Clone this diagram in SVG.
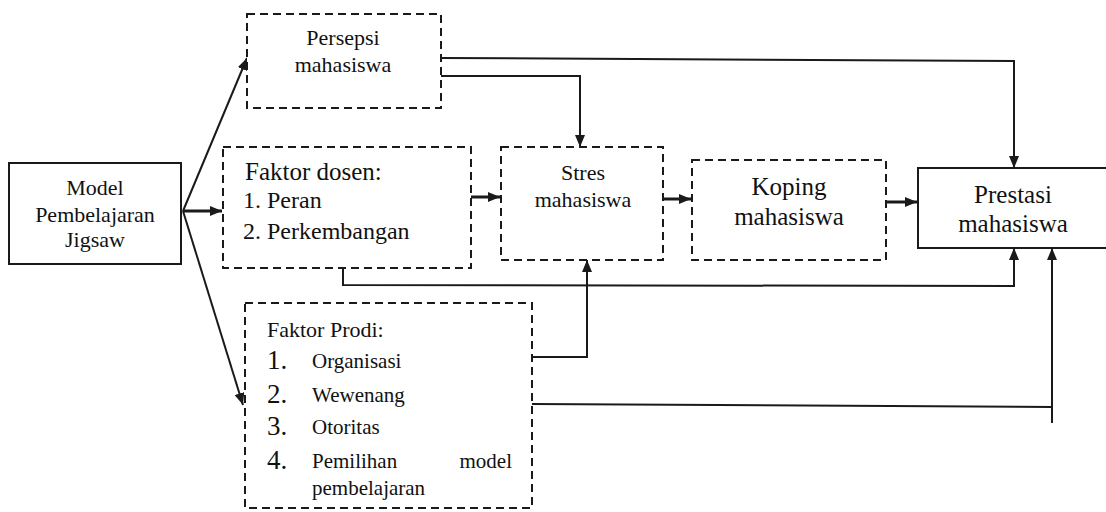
<svg xmlns="http://www.w3.org/2000/svg" width="1106" height="512" viewBox="0 0 1106 512">
<defs>
<style>
.solid{fill:#fff;stroke:#1a1a1a;stroke-width:2}
.dash{fill:#fff;stroke:#1a1a1a;stroke-width:2;stroke-dasharray:8 5}
text{font-family:'Liberation Serif','Times New Roman',serif;fill:#111}
.c{text-anchor:middle}
.ln{fill:none;stroke:#1a1a1a;stroke-width:2}
</style>
<marker id="ah" viewBox="0 0 12 10" refX="12" refY="5" markerWidth="12" markerHeight="10" markerUnits="userSpaceOnUse" orient="auto">
<path d="M0,0 L12,5 L0,10 z" fill="#1a1a1a"/>
</marker>
</defs>
<rect width="1106" height="512" fill="#fff"/>

<g id="connectors">
<path class="ln" d="M183,211 L247,58" marker-end="url(#ah)"/>
<path class="ln" style="stroke-width:3" d="M183,211 L222,211" marker-end="url(#ah)"/>
<path class="ln" d="M183,211 L243,405" marker-end="url(#ah)"/>
<path class="ln" d="M441,58 L1014,61 L1014,168" marker-end="url(#ah)"/>
<path class="ln" d="M441,76 L580,76 L580,147" marker-end="url(#ah)"/>
<path class="ln" style="stroke-width:3" d="M471,197 L500,197" marker-end="url(#ah)"/>
<path class="ln" style="stroke-width:3" d="M663,199 L691,199" marker-end="url(#ah)"/>
<path class="ln" style="stroke-width:3" d="M886,202 L917,202" marker-end="url(#ah)"/>
<path class="ln" d="M343,268 L343,285 L1014,286 L1014,248" marker-end="url(#ah)"/>
<path class="ln" d="M532,357 L587,357 L587,260" marker-end="url(#ah)"/>
<path class="ln" d="M532,404 L1052,407"/>
<path class="ln" d="M1052,423 L1052,248" marker-end="url(#ah)"/>
</g>

<g id="model">
<rect class="solid" x="9" y="163" width="172" height="101"/>
<text class="c" x="95" y="195" font-size="22">Model</text>
<text class="c" x="95" y="222" font-size="22">Pembelajaran</text>
<text class="c" x="95" y="247" font-size="22">Jigsaw</text>
</g>

<g id="persepsi">
<rect class="dash" x="247" y="14" width="194" height="94"/>
<text class="c" x="343" y="45" font-size="22">Persepsi</text>
<text class="c" x="343" y="72" font-size="22">mahasiswa</text>
</g>

<g id="dosen">
<rect class="dash" x="223" y="147" width="248" height="121"/>
<text x="245" y="180" font-size="25">Faktor dosen:</text>
<text x="243" y="208" font-size="24">1. Peran</text>
<text x="243" y="239" font-size="24">2. Perkembangan</text>
</g>

<g id="stres">
<rect class="dash" x="501" y="147" width="162" height="113"/>
<text class="c" x="583" y="180" font-size="22">Stres</text>
<text class="c" x="583" y="207" font-size="22">mahasiswa</text>
</g>

<g id="koping">
<rect class="dash" x="692" y="160" width="194" height="100"/>
<text class="c" x="789" y="195" font-size="25">Koping</text>
<text class="c" x="789" y="225" font-size="25">mahasiswa</text>
</g>

<g id="prestasi">
<rect class="solid" x="918" y="168" width="200" height="80"/>
<text class="c" x="1013" y="203" font-size="25">Prestasi</text>
<text class="c" x="1013" y="232" font-size="25">mahasiswa</text>
</g>

<g id="prodi">
<rect class="dash" x="245" y="303" width="287" height="205"/>
<text x="267" y="337" font-size="22">Faktor Prodi:</text>
<text x="267" y="369" font-size="27">1.</text>
<text x="312" y="368" font-size="21">Organisasi</text>
<text x="267" y="403" font-size="27">2.</text>
<text x="312" y="402" font-size="21">Wewenang</text>
<text x="267" y="435" font-size="27">3.</text>
<text x="312" y="434" font-size="21">Otoritas</text>
<text x="267" y="469" font-size="27">4.</text>
<text x="312" y="468" font-size="21">Pemilihan</text>
<text x="512" y="468" font-size="21" text-anchor="end">model</text>
<text x="312" y="495" font-size="21">pembelajaran</text>
</g>
</svg>
